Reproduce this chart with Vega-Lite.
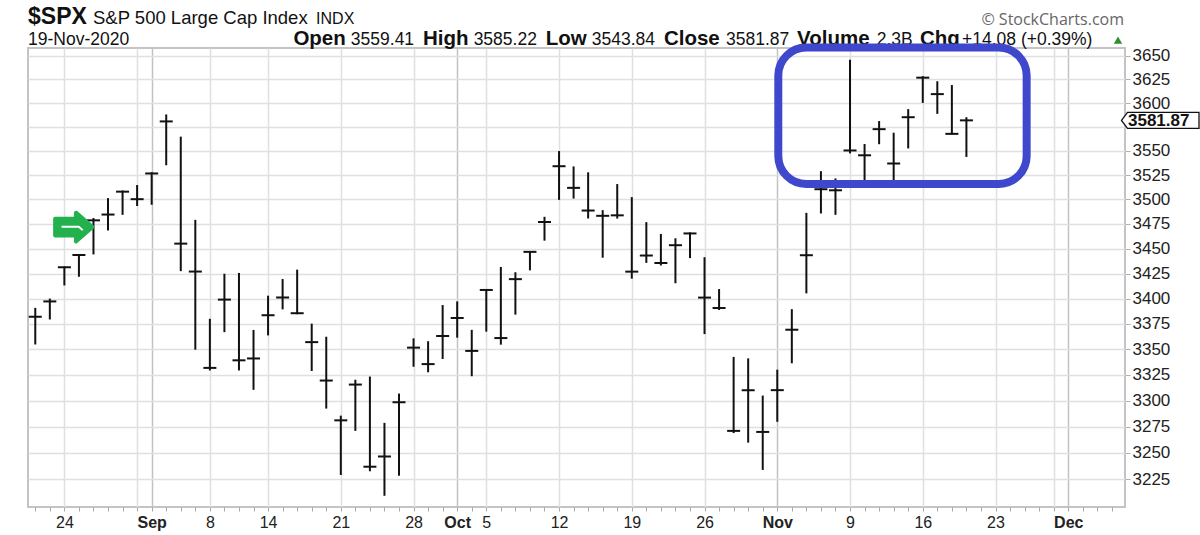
{
  "$schema": "https://vega.github.io/schema/vega-lite/v6.json",
  "width": 1097,
  "height": 459,
  "autosize": {"type": "none"},
  "padding": {"left": 28, "top": 48, "right": 75, "bottom": 28},
  "background": "#ffffff",
  "config": {"view": {"stroke": "#c4c4c4", "strokeWidth": 2}, "font": "Liberation Sans"},
  "datasets": {
    "bars": [
      {"d":"2020-08-20","i":0,"h":3390.8,"l":3354.7,"c":3382.0},
      {"d":"2020-08-21","i":1,"h":3400.0,"l":3379.3,"c":3397.2},
      {"d":"2020-08-24","i":2,"h":3432.1,"l":3413.1,"c":3431.3},
      {"d":"2020-08-25","i":3,"h":3444.2,"l":3421.8,"c":3443.6},
      {"d":"2020-08-26","i":4,"h":3481.1,"l":3444.2,"c":3478.7},
      {"d":"2020-08-27","i":5,"h":3501.4,"l":3468.4,"c":3484.6},
      {"d":"2020-08-28","i":6,"h":3509.2,"l":3484.3,"c":3508.0},
      {"d":"2020-08-31","i":7,"h":3514.8,"l":3493.3,"c":3500.3},
      {"d":"2020-09-01","i":8,"h":3528.0,"l":3494.6,"c":3526.7},
      {"d":"2020-09-02","i":9,"h":3588.1,"l":3535.2,"c":3580.8},
      {"d":"2020-09-03","i":10,"h":3564.9,"l":3427.4,"c":3455.1},
      {"d":"2020-09-04","i":11,"h":3479.2,"l":3349.6,"c":3427.0},
      {"d":"2020-09-08","i":12,"h":3380.0,"l":3329.3,"c":3331.8},
      {"d":"2020-09-09","i":13,"h":3424.8,"l":3366.8,"c":3399.0},
      {"d":"2020-09-10","i":14,"h":3425.6,"l":3329.3,"c":3339.2},
      {"d":"2020-09-11","i":15,"h":3369.0,"l":3310.5,"c":3341.0},
      {"d":"2020-09-14","i":16,"h":3402.9,"l":3363.6,"c":3383.5},
      {"d":"2020-09-15","i":17,"h":3419.5,"l":3389.3,"c":3401.2},
      {"d":"2020-09-16","i":18,"h":3428.9,"l":3384.5,"c":3385.5},
      {"d":"2020-09-17","i":19,"h":3375.2,"l":3328.8,"c":3357.0},
      {"d":"2020-09-18","i":20,"h":3362.3,"l":3292.4,"c":3319.5},
      {"d":"2020-09-21","i":21,"h":3285.6,"l":3229.1,"c":3281.1},
      {"d":"2020-09-22","i":22,"h":3320.3,"l":3271.0,"c":3315.6},
      {"d":"2020-09-23","i":23,"h":3323.4,"l":3232.6,"c":3236.9},
      {"d":"2020-09-24","i":24,"h":3278.7,"l":3209.5,"c":3246.6},
      {"d":"2020-09-25","i":25,"h":3306.9,"l":3228.4,"c":3298.5},
      {"d":"2020-09-28","i":26,"h":3360.7,"l":3332.9,"c":3351.6},
      {"d":"2020-09-29","i":27,"h":3357.9,"l":3327.5,"c":3335.5},
      {"d":"2020-09-30","i":28,"h":3393.6,"l":3340.5,"c":3363.0},
      {"d":"2020-10-01","i":29,"h":3397.2,"l":3361.4,"c":3380.8},
      {"d":"2020-10-02","i":30,"h":3369.1,"l":3323.7,"c":3348.4},
      {"d":"2020-10-05","i":31,"h":3409.6,"l":3367.3,"c":3408.6},
      {"d":"2020-10-06","i":32,"h":3431.6,"l":3354.5,"c":3361.0},
      {"d":"2020-10-07","i":33,"h":3426.3,"l":3384.1,"c":3419.4},
      {"d":"2020-10-08","i":34,"h":3447.3,"l":3428.2,"c":3446.8},
      {"d":"2020-10-09","i":35,"h":3482.3,"l":3458.1,"c":3477.1},
      {"d":"2020-10-12","i":36,"h":3549.9,"l":3499.6,"c":3534.2},
      {"d":"2020-10-13","i":37,"h":3534.0,"l":3500.9,"c":3511.9},
      {"d":"2020-10-14","i":38,"h":3527.9,"l":3480.6,"c":3488.7},
      {"d":"2020-10-15","i":39,"h":3489.1,"l":3440.9,"c":3483.3},
      {"d":"2020-10-16","i":40,"h":3515.8,"l":3480.5,"c":3483.8},
      {"d":"2020-10-19","i":41,"h":3502.4,"l":3419.9,"c":3426.9},
      {"d":"2020-10-20","i":42,"h":3476.9,"l":3435.7,"c":3443.1},
      {"d":"2020-10-21","i":43,"h":3464.9,"l":3433.1,"c":3435.6},
      {"d":"2020-10-22","i":44,"h":3460.5,"l":3415.3,"c":3453.5},
      {"d":"2020-10-23","i":45,"h":3466.5,"l":3440.5,"c":3465.4},
      {"d":"2020-10-26","i":46,"h":3441.4,"l":3364.9,"c":3401.0},
      {"d":"2020-10-27","i":47,"h":3409.5,"l":3388.7,"c":3390.7},
      {"d":"2020-10-28","i":48,"h":3342.5,"l":3268.9,"c":3271.0},
      {"d":"2020-10-29","i":49,"h":3341.1,"l":3259.8,"c":3310.1},
      {"d":"2020-10-30","i":50,"h":3304.9,"l":3233.9,"c":3270.0},
      {"d":"2020-11-02","i":51,"h":3330.1,"l":3279.7,"c":3310.2},
      {"d":"2020-11-03","i":52,"h":3389.5,"l":3336.3,"c":3369.2},
      {"d":"2020-11-04","i":53,"h":3486.3,"l":3405.2,"c":3443.4},
      {"d":"2020-11-05","i":54,"h":3529.1,"l":3485.7,"c":3510.5},
      {"d":"2020-11-06","i":55,"h":3521.6,"l":3484.3,"c":3509.4},
      {"d":"2020-11-09","i":56,"h":3646.0,"l":3547.5,"c":3550.5},
      {"d":"2020-11-10","i":57,"h":3557.2,"l":3511.9,"c":3545.5},
      {"d":"2020-11-11","i":58,"h":3581.2,"l":3557.0,"c":3572.7},
      {"d":"2020-11-12","i":59,"h":3569.0,"l":3518.6,"c":3537.0},
      {"d":"2020-11-13","i":60,"h":3593.7,"l":3552.6,"c":3585.2},
      {"d":"2020-11-16","i":61,"h":3628.5,"l":3600.2,"c":3626.9},
      {"d":"2020-11-17","i":62,"h":3623.1,"l":3588.7,"c":3609.5},
      {"d":"2020-11-18","i":63,"h":3619.1,"l":3567.3,"c":3567.8},
      {"d":"2020-11-19","i":64,"h":3585.2,"l":3543.8,"c":3581.9}
    ],
    "last": [{"i":74.9,"p":3581.87}],
    "box": [{"i":51.07,"i2":68.14,"top":3659.0,"bot":3515.9}],
    "arrow": [{"i":2.63,"p":3471.9}],
    "ticker": [{"t":"$SPX","i":-0.5,"p":3684.3}],
    "name": [{"t":"S&P 500 Large Cap Index","i":3.97,"p":3684.3}],
    "exch": [{"t":"INDX","i":19.3,"p":3684.3}],
    "credit": [{"t":"© StockCharts.com","i":74.83,"p":3683.2}],
    "info": [
      {"t":"19-Nov-2020","i":-0.5,"p":3662.2},
      {"t":"3559.41","i":21.69,"p":3662.2},
      {"t":"3585.22","i":30.13,"p":3662.2},
      {"t":"3543.84","i":38.25,"p":3662.2},
      {"t":"3581.87","i":47.48,"p":3662.2},
      {"t":"2.3B","i":57.83,"p":3662.2},
      {"t":"+14.08 (+0.39%)","i":63.7,"p":3662.2}
    ],
    "infolab": [
      {"t":"Open","i":17.74,"p":3662.2},
      {"t":"High","i":26.65,"p":3662.2},
      {"t":"Low","i":35.09,"p":3662.2},
      {"t":"Close","i":43.21,"p":3662.2},
      {"t":"Volume","i":52.36,"p":3662.2},
      {"t":"Chg","i":60.81,"p":3662.2}
    ],
    "up": [{"i":74.42,"p":3667.0}]
  },
  "encoding": {
    "x": {
      "field": "i", "type": "quantitative",
      "scale": {"domain": [-0.5, 74.9], "nice": false, "zero": false},
      "axis": {
        "orient": "bottom", "title": null, "domain": false,
        "values": [0,1,2,3,4,5,6,7,8,9,10,11,12,13,14,15,16,17,18,19,20,21,22,23,24,25,26,27,28,29,30,31,32,33,34,35,36,37,38,39,40,41,42,43,44,45,46,47,48,49,50,51,52,53,54,55,56,57,58,59,60,61,62,63,64,65,66,67,68,69,70,71,72,73,74],
        "tickSize": 4, "tickColor": "#a8a8a8", "tickWidth": 1,
        "grid": true, "gridWidth": 1.5,
        "gridColor": {"condition": {"test": "indexof([8,29,51,71], datum.value) >= 0", "value": "#c2c2c2"}, "value": "#e0e0e0"},
        "gridOpacity": {"condition": {"test": "indexof([2,7,8,12,16,21,26,29,31,36,41,46,51,56,61,66,70,71], datum.value) >= 0", "value": 1}, "value": 0},
        "labelExpr": "indexof([2,8,12,16,21,26,29,31,36,41,46,51,56,61,66,71], datum.value) >= 0 ? ['24','Sep','8','14','21','28','Oct','5','12','19','26','Nov','9','16','23','Dec'][indexof([2,8,12,16,21,26,29,31,36,41,46,51,56,61,66,71], datum.value)] : ''",
        "labelFontWeight": {"condition": {"test": "indexof([8,29,51,71], datum.value) >= 0", "value": "bold"}, "value": "normal"},
        "labelFont": "Liberation Sans", "labelFontSize": 16, "labelColor": "#222222",
        "labelPadding": 3, "labelOverlap": false, "labelFlush": false, "labelBound": false
      }
    }
  },
  "layer": [
    {
      "data": {"name": "bars"},
      "mark": {"type": "rule", "color": "#111111", "strokeWidth": 2},
      "encoding": {
        "y": {
          "field": "h", "type": "quantitative",
          "scale": {"type": "log", "domain": [3199, 3658.5], "nice": false, "zero": false},
          "axis": {
            "orient": "right", "title": null, "domain": false,
            "values": [3225,3250,3275,3300,3325,3350,3375,3400,3425,3450,3475,3500,3525,3550,3575,3600,3625,3650],
            "format": "d",
            "labelExpr": "datum.value == 3575 ? '' : datum.label",
            "tickSize": 5, "tickColor": "#b0b0b0",
            "grid": true, "gridColor": "#e0e0e0", "gridWidth": 1.5,
            "labelFont": "Liberation Sans", "labelFontSize": 17, "labelColor": "#222222",
            "labelPadding": 2, "labelBaseline": "middle", "labelOverlap": false
          }
        },
        "y2": {"field": "l"}
      }
    },
    {
      "data": {"name": "bars"},
      "mark": {"type": "tick", "orient": "horizontal", "size": 13, "thickness": 2, "color": "#111111", "opacity": 1},
      "encoding": {
        "y": {"field": "c", "type": "quantitative", "scale": {"type": "log", "domain": [3199, 3658.5], "nice": false, "zero": false}}
      }
    },
    {
      "data": {"name": "arrow"},
      "mark": {"type": "point", "shape": "M -0.92 -0.42 L 0.12 -0.42 L 0.12 -0.72 L 0.95 0 L 0.12 0.72 L 0.12 0.42 L -0.92 0.42 Z", "size": 1600, "filled": true, "color": "#22B14C", "stroke": "#22B14C", "strokeWidth": 4, "strokeJoin": "round", "opacity": 1},
      "encoding": {
        "y": {"field": "p", "type": "quantitative", "scale": {"type": "log", "domain": [3199, 3658.5], "nice": false, "zero": false}}
      }
    },
    {
      "data": {"name": "arrow"},
      "mark": {"type": "point", "shape": "M -0.6 -0.06 L 0.28 -0.06 L 0.5 0.14 L 0.43 0.19 L 0.24 0.03 L -0.6 0.03 Z", "size": 1600, "filled": true, "color": "#ffffff", "strokeWidth": 0, "opacity": 1},
      "encoding": {
        "y": {"field": "p", "type": "quantitative", "scale": {"type": "log", "domain": [3199, 3658.5], "nice": false, "zero": false}}
      }
    },
    {
      "data": {"name": "ticker"},
      "mark": {"type": "text", "align": "left", "baseline": "alphabetic", "font": "Liberation Sans", "fontSize": 23, "fontWeight": "bold", "color": "#111111"},
      "encoding": {
        "y": {"field": "p", "type": "quantitative", "scale": {"type": "log", "domain": [3199, 3658.5], "nice": false, "zero": false}},
        "text": {"field": "t"}
      }
    },
    {
      "data": {"name": "name"},
      "mark": {"type": "text", "align": "left", "baseline": "alphabetic", "font": "Liberation Sans", "fontSize": 18.5, "color": "#111111"},
      "encoding": {
        "y": {"field": "p", "type": "quantitative", "scale": {"type": "log", "domain": [3199, 3658.5], "nice": false, "zero": false}},
        "text": {"field": "t"}
      }
    },
    {
      "data": {"name": "exch"},
      "mark": {"type": "text", "align": "left", "baseline": "alphabetic", "font": "Liberation Sans", "fontSize": 16, "color": "#111111"},
      "encoding": {
        "y": {"field": "p", "type": "quantitative", "scale": {"type": "log", "domain": [3199, 3658.5], "nice": false, "zero": false}},
        "text": {"field": "t"}
      }
    },
    {
      "data": {"name": "credit"},
      "mark": {"type": "text", "align": "right", "baseline": "alphabetic", "font": "Open Sans", "fontSize": 16, "color": "#666666"},
      "encoding": {
        "y": {"field": "p", "type": "quantitative", "scale": {"type": "log", "domain": [3199, 3658.5], "nice": false, "zero": false}},
        "text": {"field": "t"}
      }
    },
    {
      "data": {"name": "info"},
      "mark": {"type": "text", "align": "left", "baseline": "alphabetic", "font": "Liberation Sans", "fontSize": 17.5, "color": "#111111"},
      "encoding": {
        "y": {"field": "p", "type": "quantitative", "scale": {"type": "log", "domain": [3199, 3658.5], "nice": false, "zero": false}},
        "text": {"field": "t"}
      }
    },
    {
      "data": {"name": "infolab"},
      "mark": {"type": "text", "align": "left", "baseline": "alphabetic", "font": "Liberation Sans", "fontSize": 20.5, "fontWeight": "bold", "color": "#111111"},
      "encoding": {
        "y": {"field": "p", "type": "quantitative", "scale": {"type": "log", "domain": [3199, 3658.5], "nice": false, "zero": false}},
        "text": {"field": "t"}
      }
    },
    {
      "data": {"name": "up"},
      "mark": {"type": "point", "shape": "triangle-up", "size": 70, "filled": true, "color": "#2f8f2f", "opacity": 1},
      "encoding": {
        "y": {"field": "p", "type": "quantitative", "scale": {"type": "log", "domain": [3199, 3658.5], "nice": false, "zero": false}}
      }
    },
    {
      "data": {"name": "box"},
      "mark": {"type": "rect", "fillOpacity": 0, "stroke": "#3F48CC", "strokeWidth": 8, "cornerRadius": 28},
      "encoding": {
        "x2": {"field": "i2"},
        "y": {"field": "top", "type": "quantitative", "scale": {"type": "log", "domain": [3199, 3658.5], "nice": false, "zero": false}},
        "y2": {"field": "bot"}
      }
    },
    {
      "data": {"name": "last"},
      "mark": {"type": "point", "shape": "M -0.35 0 L 0.25 -0.8 L 7.4 -0.8 L 7.4 0.8 L 0.25 0.8 Z", "size": 400, "filled": true, "color": "#ffffff", "stroke": "#111111", "strokeWidth": 1.3, "opacity": 1},
      "encoding": {
        "y": {"field": "p", "type": "quantitative", "scale": {"type": "log", "domain": [3199, 3658.5], "nice": false, "zero": false}}
      }
    },
    {
      "data": {"name": "last"},
      "mark": {"type": "text", "align": "left", "baseline": "middle", "dx": 3, "dy": 1, "font": "Liberation Sans", "fontSize": 17, "fontWeight": "bold", "color": "#111111"},
      "encoding": {
        "y": {"field": "p", "type": "quantitative", "scale": {"type": "log", "domain": [3199, 3658.5], "nice": false, "zero": false}},
        "text": {"field": "p", "type": "quantitative", "format": ".2f"}
      }
    }
  ]
}
